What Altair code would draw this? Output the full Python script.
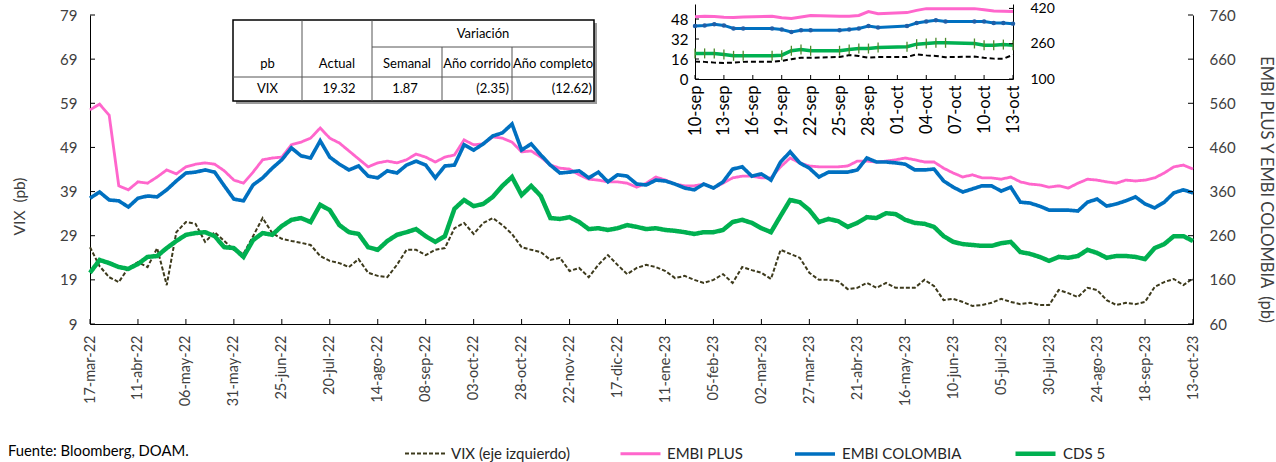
import altair as alt
import pandas as pd

# ---------------- main series: every 5 days, 17-mar-22 .. 13-oct-23 ----------------
inicio, fin = "2022-03-17", "2023-10-13"
fechas = pd.date_range(inicio, fin, freq="5D").strftime("%Y-%m-%d").tolist()

vix = [26.4, 22.1, 19.6, 18.5, 21.7, 23.0, 21.9, 26.2, 17.8, 29.8,
       32.1, 31.7, 27.6, 29.8, 27.8, 25.8, 24.9, 28.9, 33.0, 29.6,
       28.3, 27.8, 27.4, 26.9, 24.4, 23.3, 22.8, 21.9, 23.7, 20.6,
       19.9, 19.6, 22.4, 25.8, 25.8, 24.6, 25.8, 26.2, 30.7, 31.9,
       29.4, 31.9, 33.0, 31.4, 29.4, 26.4, 25.8, 25.3, 23.5, 24.0,
       21.0, 21.7, 19.6, 22.4, 24.6, 22.4, 20.3, 21.7, 22.4, 21.9,
       21.0, 19.4, 19.9, 19.0, 18.3, 19.0, 20.3, 18.3, 21.9, 21.2,
       20.6, 19.2, 25.8, 24.9, 24.0, 20.6, 19.0, 19.0, 18.7, 16.9,
       17.2, 18.3, 17.2, 18.3, 17.2, 17.2, 17.2, 19.0, 17.6, 14.4,
       14.7, 14.0, 13.1, 13.3, 13.8, 14.7, 14.0, 13.5, 13.8, 13.3,
       13.3, 16.7, 16.0, 15.1, 17.2, 16.7, 14.4, 13.3, 13.8, 13.5,
       14.0, 17.4, 18.5, 19.2, 17.8, 19.32]

embi_plus = [545, 558, 533, 373, 364, 382, 379, 393, 409, 400,
             416, 422, 425, 422, 407, 386, 379, 404, 432, 436,
             438, 466, 472, 481, 504, 481, 470, 452, 434, 416,
             425, 429, 425, 432, 445, 438, 427, 438, 443, 477,
             466, 468, 484, 481, 472, 450, 452, 438, 420, 413,
             411, 398, 388, 386, 382, 382, 379, 370, 379, 393,
             386, 377, 373, 373, 377, 368, 379, 391, 395, 395,
             391, 391, 416, 436, 425, 418, 416, 416, 416, 418,
             429, 429, 427, 429, 432, 436, 432, 427, 427, 413,
             402, 393, 398, 391, 391, 388, 393, 382, 377, 375,
             370, 373, 368, 379, 388, 386, 382, 379, 386, 384,
             386, 391, 402, 416, 420, 411]

embi_colombia = [345, 359, 341, 339, 325, 345, 350, 348, 364, 384,
                 402, 404, 409, 404, 373, 343, 339, 375, 391, 413,
                 432, 459, 441, 436, 475, 438, 422, 409, 418, 395,
                 391, 407, 402, 420, 429, 420, 391, 418, 420, 466,
                 454, 468, 486, 493, 513, 454, 468, 443, 420, 402,
                 404, 407, 391, 404, 382, 398, 395, 377, 375, 386,
                 384, 377, 368, 364, 377, 368, 382, 411, 416, 395,
                 400, 386, 427, 450, 425, 413, 393, 404, 404, 404,
                 409, 436, 427, 427, 425, 422, 409, 409, 411, 384,
                 370, 359, 366, 373, 373, 361, 370, 336, 334, 327,
                 318, 318, 318, 316, 336, 343, 327, 332, 339, 348,
                 332, 323, 336, 357, 364, 357]

cds5 = [176, 205, 198, 189, 185, 196, 212, 214, 232, 248,
        262, 266, 268, 259, 234, 232, 212, 250, 266, 262,
        282, 296, 300, 291, 330, 318, 284, 268, 264, 234,
        228, 248, 262, 268, 275, 259, 246, 259, 321, 341,
        327, 332, 348, 373, 393, 352, 373, 350, 300, 298,
        302, 291, 275, 277, 273, 277, 284, 280, 275, 277,
        273, 271, 268, 264, 268, 268, 273, 291, 296, 289,
        277, 268, 305, 341, 336, 318, 291, 298, 293, 280,
        289, 302, 300, 311, 309, 296, 289, 287, 280, 259,
        246, 241, 239, 237, 237, 243, 246, 223, 219, 212,
        203, 212, 210, 214, 228, 221, 210, 214, 214, 212,
        207, 232, 241, 259, 259, 248]

# ---------------- inset: last weeks, daily ----------------
fechas_rec = ["2023-09-10", "2023-09-11", "2023-09-12", "2023-09-13", "2023-09-14",
              "2023-09-15", "2023-09-18", "2023-09-19", "2023-09-20", "2023-09-21",
              "2023-09-22", "2023-09-25", "2023-09-26", "2023-09-27", "2023-09-28",
              "2023-09-29", "2023-10-02", "2023-10-03", "2023-10-04", "2023-10-05",
              "2023-10-06", "2023-10-09", "2023-10-10", "2023-10-11", "2023-10-12",
              "2023-10-13"]
vix_rec = [13.9, 13.7, 13.1, 12.9, 13.1, 13.7, 13.9, 14.5, 15.8, 17.0,
           17.0, 17.6, 19.1, 18.4, 17.0, 17.6, 17.6, 19.7, 18.9, 18.4,
           17.45, 17.9, 17.0, 16.3, 16.2, 19.32]
embi_plus_rec = [382, 384, 383, 380, 379, 381, 384, 378, 374, 381,
                 388, 384, 385, 388, 406, 396, 401, 411, 419, 419,
                 419, 419, 414, 408, 407, 406]
embi_colombia_rec = [340, 343, 348, 343, 329, 329, 329, 324, 313, 321,
                     321, 321, 324, 329, 340, 333, 340, 354, 361, 366,
                     361, 361, 361, 354, 354, 351]
cds5_rec = [216, 216, 216, 211, 205, 205, 205, 208, 228, 234,
            228, 228, 234, 238, 238, 243, 246, 258, 261, 264,
            264, 261, 253, 253, 256, 253]

# ---------------- labels and ticks ----------------
series = ["VIX (eje izquierdo)", "EMBI PLUS", "EMBI COLOMBIA", "CDS 5"]
colores = ["#3D3A1C", "#FF66CC", "#0070C0", "#00B050"]
trazos = [[4, 2], [1, 0], [1, 0], [1, 0]]
grosores = [2, 4.5, 3, 4.5]

ticks_x = pd.date_range(inicio, fin, freq="25D").strftime("%Y-%m-%d").tolist()
ticks_rec = pd.date_range("2023-09-10", "2023-10-13", freq="3D").strftime("%Y-%m-%d").tolist()
ticks_vix = list(range(9, 80, 10))
ticks_embi = list(range(60, 761, 100))
ticks_vix_rec = [0, 16, 32, 48]
ticks_embi_rec = [100, 260, 420]

tabla_titulo = "Variación"
tabla_encabezado = ["pb", "Actual", "Semanal", "Año corrido", "Año completo"]
tabla_fila = ["VIX", "19.32", "1.87", "(2.35)", "(12.62)"]
fuente = "Fuente: Bloomberg, DOAM."
titulo_izq = "VIX\u00a0 (pb)"
titulo_der = "EMBI PLUS Y EMBI COLOMBIA\u00a0 (pb)"

meses = ["ene", "feb", "mar", "abr", "may", "jun", "jul", "ago", "sep", "oct", "nov", "dic"]

# ---------------- layout ----------------
W, H = 1103, 309           # main plot area
IX0, IX1 = 605, 923        # inset horizontal range inside the plot frame
IY0, IY1 = 64, -11         # inset vertical range (bottom, top)
FONT = "Lato"
GRIS = "#404040"


def dt(s):
    t = pd.Timestamp(s)
    return alt.DateTime(year=t.year, month=t.month, date=t.day, utc=True)


meses_js = "[" + ",".join("'%s'" % m for m in meses) + "]"
etiqueta_larga = ("utcFormat(datum.value, '%d') + '-' + " + meses_js +
                  "[utcmonth(datum.value)] + '-' + utcFormat(datum.value, '%y')")
etiqueta_corta = "utcFormat(datum.value, '%d') + '-' + " + meses_js + "[utcmonth(datum.value)]"

esc_x = alt.Scale(type="utc", domain=[dt(inicio), dt(fin)], nice=False)
esc_vix = alt.Scale(domain=[9, 79], nice=False, zero=False)
esc_embi = alt.Scale(domain=[60, 760], nice=False, zero=False)
esc_x_rec = alt.Scale(type="utc", domain=[dt(fechas_rec[0]), dt(fechas_rec[-1])],
                      range=[IX0, IX1], nice=False)
esc_vix_rec = alt.Scale(domain=[0, 60], range=[IY0, IY1], nice=False, zero=False)
esc_embi_rec = alt.Scale(domain=[100, 440], range=[IY0, IY1], nice=False, zero=False)

leyenda = alt.Legend(title=None, orient="none", legendX=314, legendY=416,
                     direction="horizontal", symbolType="stroke", symbolSize=1600,
                     labelFont=FONT, labelFontSize=15, labelColor="#262626",
                     labelOffset=5, columnPadding=44)
enc_serie = dict(
    color=alt.Color("serie:N", scale=alt.Scale(domain=series, range=colores), legend=leyenda),
    strokeDash=alt.StrokeDash("serie:N", scale=alt.Scale(domain=series, range=trazos), legend=leyenda),
    strokeWidth=alt.StrokeWidth("serie:N", scale=alt.Scale(domain=series, range=grosores), legend=leyenda),
)

# ---------------- data frames ----------------
df_vix = pd.DataFrame({"fecha": fechas, "valor": vix, "serie": series[0]})
df_embi = pd.concat([
    pd.DataFrame({"fecha": fechas, "valor": embi_plus, "serie": series[1]}),
    pd.DataFrame({"fecha": fechas, "valor": embi_colombia, "serie": series[2]}),
    pd.DataFrame({"fecha": fechas, "valor": cds5, "serie": series[3]}),
], ignore_index=True)

# ---------------- shared encodings (same axis spec for every layer of a group) ----------------
x_main = alt.X("fecha:T", scale=esc_x, axis=alt.Axis(
    orient="bottom", values=[dt(d) for d in ticks_x], labelExpr=etiqueta_larga,
    labelAngle=-90, labelPadding=11, labelFontSize=14.5, ticks=False, title=None))
x_main_sin = alt.X("fecha:T", scale=esc_x, axis=None)

y_vix = alt.Y("valor:Q", scale=esc_vix, axis=alt.Axis(
    orient="left", values=ticks_vix, ticks=False, labelPadding=13, labelFontSize=15,
    title=titulo_izq, titleFontSize=15.5, titleFontWeight="normal", titleColor=GRIS,
    titleAngle=-90, titleX=-71, titleY=191, titleAlign="center", titleBaseline="middle"))

y_embi = alt.Y("valor:Q", scale=esc_embi, axis=alt.Axis(
    orient="right", values=ticks_embi, ticks=False, labelPadding=16, labelFontSize=15,
    title=titulo_der, titleFontSize=16.5, titleFontWeight="normal", titleColor=GRIS,
    titleAngle=90, titleX=72, titleY=174, titleAlign="center", titleBaseline="middle"))

x_rec = alt.X("fecha:T", scale=esc_x_rec, axis=alt.Axis(
    orient="bottom", offset=IY0 - H, values=[dt(d) for d in ticks_rec],
    labelExpr=etiqueta_corta, labelAngle=-90, labelPadding=6, labelFontSize=16.5,
    labelColor="#000", ticks=False, title=None))
x_rec_sin = alt.X("fecha:T", scale=esc_x_rec, axis=None)

y_vix_rec = alt.Y("valor:Q", scale=esc_vix_rec, axis=alt.Axis(
    orient="left", offset=-IX0, values=ticks_vix_rec, ticks=False, labelPadding=7,
    labelFontSize=15, labelColor="#000", title=None))

y_embi_rec = alt.Y("valor:Q", scale=esc_embi_rec, axis=alt.Axis(
    orient="right", offset=IX1 - W, values=ticks_embi_rec, ticks=False, labelPadding=17,
    labelFontSize=14, labelColor="#000", title=None))

# ---------------- main chart, left axis (VIX) ----------------
linea_vix = alt.Chart(df_vix).mark_line().encode(x=x_main, y=y_vix, **enc_serie)
marcas_izq = alt.Chart(pd.DataFrame({"valor": ticks_vix})).mark_rule(color="#000").encode(
    x=alt.value(0), x2=alt.value(5), y=y_vix)
marcas_x = alt.Chart(pd.DataFrame({"fecha": ticks_x})).mark_rule(color="#000").encode(
    x=x_main, y=alt.value(H - 5), y2=alt.value(H))
grupo_izq = alt.layer(linea_vix, marcas_izq, marcas_x)

# ---------------- main chart, right axis (EMBI / CDS) ----------------
lineas_embi = alt.Chart(df_embi).mark_line().encode(
    x=x_main_sin, y=y_embi, detail="serie:N", **enc_serie)
marcas_der = alt.Chart(pd.DataFrame({"valor": ticks_embi})).mark_rule(color="#000").encode(
    x=alt.value(W - 5), x2=alt.value(W), y=y_embi)
grupo_der = alt.layer(lineas_embi, marcas_der)

# ---------------- inset, left axis ----------------
rec_vix = alt.Chart(pd.DataFrame({"fecha": fechas_rec, "valor": vix_rec})).mark_line(
    color="#000", strokeWidth=2, strokeDash=[5, 3]).encode(x=x_rec, y=y_vix_rec)
rec_marcas_izq = alt.Chart(pd.DataFrame({"valor": ticks_vix_rec})).mark_rule(color="#000").encode(
    x=alt.value(IX0), x2=alt.value(IX0 + 4), y=y_vix_rec)
rec_marcas_x = alt.Chart(pd.DataFrame({"fecha": ticks_rec})).mark_rule(color="#000").encode(
    x=x_rec, y=alt.value(IY0 - 4), y2=alt.value(IY0))
grupo_rec_izq = alt.layer(rec_vix, rec_marcas_izq, rec_marcas_x)

# ---------------- inset, right axis ----------------
df_rp = pd.DataFrame({"fecha": fechas_rec, "valor": embi_plus_rec})
df_rc = pd.DataFrame({"fecha": fechas_rec, "valor": embi_colombia_rec})
df_rd = pd.DataFrame({"fecha": fechas_rec, "valor": cds5_rec})

rec_plus = alt.Chart(df_rp).mark_line(color="#FF66CC", strokeWidth=3).encode(x=x_rec_sin, y=y_embi_rec)
rec_col = alt.Chart(df_rc).mark_line(color="#0070C0", strokeWidth=3).encode(x=x_rec_sin, y=y_embi_rec)
rec_col_pt = alt.Chart(df_rc).mark_circle(color="#1F5FA8", size=20, opacity=1).encode(
    x=x_rec_sin, y=y_embi_rec)
rec_cds = alt.Chart(df_rd).mark_line(color="#00B050", strokeWidth=3.5).encode(x=x_rec_sin, y=y_embi_rec)
rec_cds_pt = alt.Chart(df_rd).mark_tick(color="#4E8A2E", orient="vertical", size=10,
                                        thickness=1.3, opacity=1).encode(x=x_rec_sin, y=y_embi_rec)
rec_marcas_der = alt.Chart(pd.DataFrame({"valor": ticks_embi_rec})).mark_rule(color="#000").encode(
    x=alt.value(IX1 - 4), x2=alt.value(IX1), y=y_embi_rec)
grupo_rec_der = alt.layer(rec_plus, rec_col, rec_col_pt, rec_cds, rec_cds_pt, rec_marcas_der)

# ---------------- summary table ----------------
TX = [143, 212, 282, 352, 422, 504]   # column edges
TY = [5, 32, 62, 86]                   # row edges
uno = pd.DataFrame({"k": [0]})

sombra = alt.Chart(uno).mark_rect(fill="#9A9A9A").encode(
    x=alt.value(TX[0] + 3), x2=alt.value(TX[-1] + 3), y=alt.value(TY[0] + 3), y2=alt.value(TY[-1] + 3))
marco = alt.Chart(uno).mark_rect(fill="white", stroke="#000", strokeWidth=1.5).encode(
    x=alt.value(TX[0]), x2=alt.value(TX[-1]), y=alt.value(TY[0]), y2=alt.value(TY[-1]))

lineas_t = pd.DataFrame({
    "x": [TX[2], TX[0], TX[1], TX[2], TX[3], TX[4]],
    "x2": [TX[5], TX[5], TX[1], TX[2], TX[3], TX[4]],
    "y": [TY[1], TY[2], TY[0], TY[0], TY[1], TY[1]],
    "y2": [TY[1], TY[2], TY[3], TY[3], TY[3], TY[3]],
})
px_x = alt.X("x:Q", scale=None, axis=None)
px_y = alt.Y("y:Q", scale=None, axis=None)
rejilla = alt.Chart(lineas_t).mark_rule(color="#555555", strokeWidth=1).encode(
    x=px_x, x2="x2:Q", y=px_y, y2="y2:Q")

centros = [(TX[i] + TX[i + 1]) / 2 for i in range(5)]
yh, yf = 49, 74
textos_c = pd.DataFrame({
    "t": [tabla_titulo] + tabla_encabezado + tabla_fila[:3],
    "x": [(TX[2] + TX[5]) / 2] + centros + [centros[0], centros[1] + 2, centros[2] - 2],
    "y": [19] + [yh] * 5 + [yf] * 3,
})
textos_d = pd.DataFrame({
    "t": tabla_fila[3:],
    "x": [TX[4] - 3, TX[5] - 2],
    "y": [yf, yf],
})
txt_c = alt.Chart(textos_c).mark_text(font=FONT, fontSize=13, color="#000", align="center",
                                      baseline="middle").encode(x=px_x, y=px_y, text="t:N")
txt_d = alt.Chart(textos_d).mark_text(font=FONT, fontSize=13, color="#000", align="right",
                                      baseline="middle").encode(x=px_x, y=px_y, text="t:N")

nota = alt.Chart(uno).mark_text(font=FONT, fontSize=14.8, color="#000", align="left",
                                baseline="middle").encode(
    x=alt.value(-82), y=alt.value(437), text=alt.value(fuente))

tabla = alt.layer(sombra, marco, rejilla, txt_c, txt_d, nota)

chart = alt.layer(grupo_izq, grupo_der, grupo_rec_izq, grupo_rec_der, tabla).resolve_scale(
    x="independent", y="independent"
).properties(
    width=W, height=H,
    autosize=alt.AutoSizeParams(type="none"),
    padding={"left": 90, "top": 15, "right": 83, "bottom": 138},
    background="white",
).configure_view(strokeWidth=0).configure_axis(
    grid=False, labelFont=FONT, titleFont=FONT, labelColor=GRIS,
    domainColor="#000", domainWidth=1,
)

chart.save("out.html", embed_options={"renderer": "svg", "actions": False})
